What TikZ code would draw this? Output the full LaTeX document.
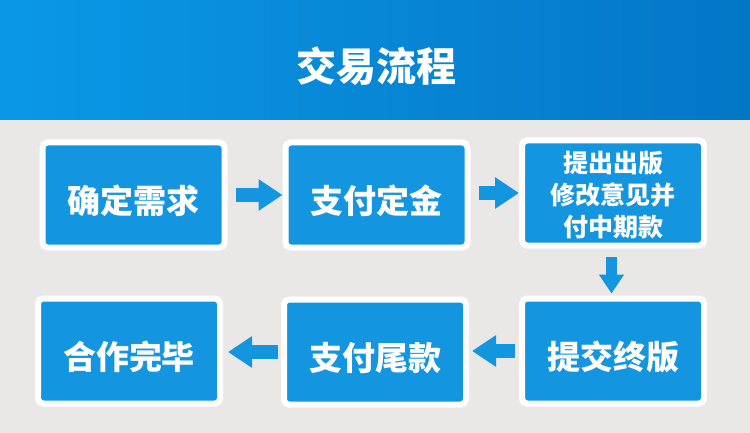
\documentclass[tikz,border=0pt]{standalone}
\usepackage{fontspec}
\setmainfont{Noto Sans CJK SC}
\usetikzlibrary{arrows.meta}
\definecolor{bxblue}{HTML}{1495E0}
\definecolor{bggray}{HTML}{EAE8E7}
\definecolor{banL}{HTML}{0A98E6}
\definecolor{banR}{HTML}{0476C6}
\begin{document}
\begin{tikzpicture}[x=1pt,y=-1pt,
  stepbox/.style={fill=bxblue, draw=white, line width=6pt, rounded corners=5pt,
    minimum width=182pt, minimum height=105pt, text=white, align=center, inner sep=0pt,
    font=\bfseries\fontsize{33}{40}\selectfont},
  oneline/.style={text height=37pt, text depth=0pt},
  smalltext/.style={font=\bfseries\fontsize{25}{32.5}\selectfont},
  flow/.style={draw=bxblue, line width=14pt, -{Triangle[length=24pt 0, width=30pt 0]}},
  flowdown/.style={draw=bxblue, line width=11pt, -{Triangle[length=19pt 0, width=24pt 0]}},
]
\useasboundingbox (0,0) rectangle (750,433);
\fill[bggray] (0,0) rectangle (750,433);
\shade[left color=banL, right color=banR] (0,0) rectangle (750,120);
\node[text=white, font=\bfseries\fontsize{40}{46}\selectfont] (title) at (376,66) {交易流程};

\node[stepbox, oneline] (b1) at (133.5,195) {确定需求};
\node[stepbox, oneline] (b2) at (376.5,195) {支付定金};
\node[stepbox, smalltext] (b3) at (613,193) {\raisebox{-5pt}[\height][\depth]{\begin{tabular}{@{}c@{}}提出出版\\修改意见并\\付中期款\end{tabular}}};
\node[stepbox, oneline] (b4) at (613,351) {提交终版};
\node[stepbox, oneline] (b5) at (375,352) {支付尾款};
\node[stepbox, oneline] (b6) at (129,351) {合作完毕};

\draw[flow] ([xshift=8pt]b1.east) -- (b2.west);
\draw[flow] ([xshift=8pt]b2.east |- b3.west) -- (b3.west);
\draw[flowdown] ([xshift=-1.5pt,yshift=-8pt]b3.south) -- ([xshift=-1.5pt,yshift=2pt]b4.north);
\draw[flow, shorten >=3pt] ([xshift=-4pt]b4.west) -- (b5.east |- b4.west);
\draw[flow, shorten >=5pt] ([xshift=-3pt]b5.west) -- (b6.east |- b5.west);
\end{tikzpicture}
\end{document}
